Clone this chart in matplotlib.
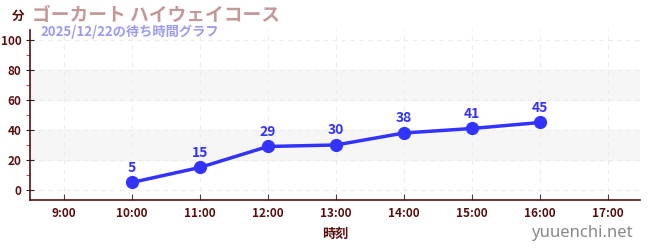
import matplotlib
matplotlib.use("Agg")
import matplotlib.pyplot as plt
from matplotlib.ticker import MultipleLocator

plt.rcParams['font.family'] = ['Noto Sans CJK JP', 'DejaVu Sans']

hours = [10, 11, 12, 13, 14, 15, 16]
waits = [5, 15, 29, 30, 38, 41, 45]
xticks = [9, 10, 11, 12, 13, 14, 15, 16, 17]
xlabels = ["%d:00" % h for h in xticks]

title = "ゴーカート ハイウェイコース"
subtitle = "2025/12/22の待ち時間グラフ"

dark = "#5a0f0f"
blue = "#3333ff"

fig = plt.figure(figsize=(6.5, 2.5), dpi=100)
ax = fig.add_axes([0.0468, 0.2, 0.938, 0.68])

for lo, hi in [(20, 40), (60, 80)]:
    ax.axhspan(lo, hi, color="#f6f6f6", zorder=0)

ax.plot(hours, waits, color=blue, lw=2.5, marker="o", ms=8.5, zorder=3)
for h, w in zip(hours, waits):
    ax.annotate(str(w), (h, w), xytext=(0, 5.5), textcoords="offset points",
                ha="center", va="bottom", color=blue, fontsize=10, fontweight="bold")

ax.set_xlim(8.51, 17.47)
ax.set_ylim(-6.7, 106.7)
ax.set_xticks(xticks)
ax.set_xticklabels(xlabels)
ax.set_yticks([0, 20, 40, 60, 80, 100])
ax.yaxis.set_minor_locator(MultipleLocator(10))
ax.tick_params(axis="x", colors="#444444", direction="in", length=4, labelsize=8.5, pad=5)
ax.tick_params(axis="y", which="major", colors="#222222", direction="inout", length=6, labelsize=8.5)
ax.tick_params(axis="y", which="minor", colors="#cc2222", length=3)
for lab in ax.get_xticklabels() + ax.get_yticklabels():
    lab.set_color(dark)
    lab.set_fontweight("bold")

ax.grid(True, color="#ececec", ls=(0, (4, 4)), lw=0.8)
ax.set_axisbelow(True)
for s in ["top", "right"]:
    ax.spines[s].set_visible(False)
for s in ["left", "bottom"]:
    ax.spines[s].set_color(dark)
    ax.spines[s].set_linewidth(1.2)

ax.set_xlabel("時刻", color=dark, fontsize=9.5, fontweight="bold", labelpad=5)

fig.text(0.018, 0.935, "分", color=dark, fontsize=9, fontweight="bold", va="center")
fig.text(0.05, 0.94, title, color="#c49898", fontsize=13.5, fontweight="bold", va="center")
fig.text(0.062, 0.872, subtitle, color="#9b9bf0", fontsize=9.5, fontweight="bold", va="center")
fig.text(0.974, 0.068, "yuuenchi.net", color="#888888", fontsize=12, ha="right", va="center",
         family=["Noto Sans", "DejaVu Sans"])

fig.savefig("out.png", dpi=100)
